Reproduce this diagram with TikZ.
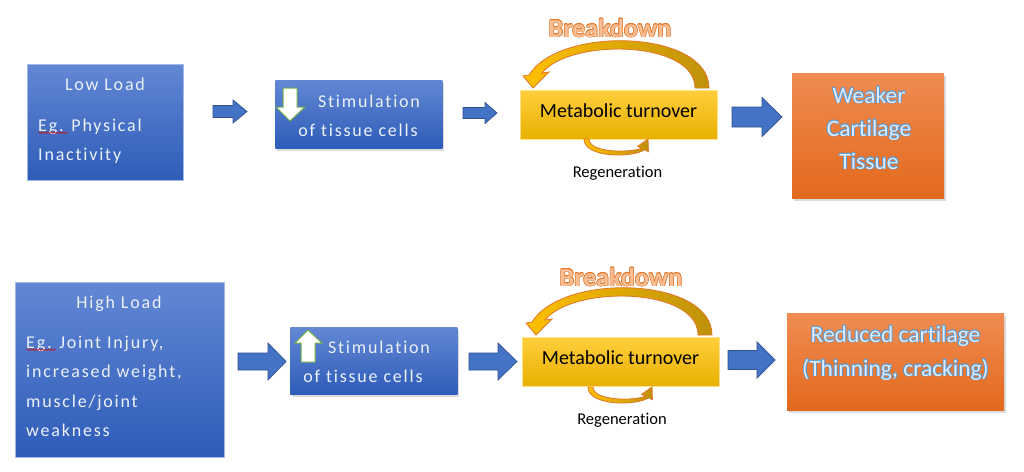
\documentclass[tikz,border=0pt]{standalone}
\usepackage{fontspec}
\setmainfont{Carlito}[Ligatures=NoCommon]
\newfontfamily\spaced[LetterSpace=10,Ligatures=NoCommon]{Carlito}
\usetikzlibrary{shadows,decorations.pathmorphing}
\definecolor{boxblueT}{RGB}{98,135,212}
\definecolor{boxblueB}{RGB}{46,92,184}
\definecolor{arrblue}{RGB}{68,114,196}
\definecolor{arrblueD}{RGB}{47,82,143}
\definecolor{goldT}{RGB}{255,206,60}
\definecolor{goldB}{RGB}{232,176,0}
\definecolor{orT}{RGB}{240,140,82}
\definecolor{orB}{RGB}{226,105,28}
\definecolor{orline}{RGB}{228,118,38}
\definecolor{brkfill}{RGB}{248,190,150}
\definecolor{wtxt}{RGB}{236,241,250}
\definecolor{ltblue}{RGB}{222,235,250}
\definecolor{blueline}{RGB}{91,155,213}
\definecolor{arcL}{RGB}{255,192,0}
\definecolor{arcR}{RGB}{190,145,10}
\definecolor{ggreen}{RGB}{112,173,71}
\newdimen\oltd
\newcommand{\olt}[4]{\leavevmode{\oltd=#4\relax
 \def\oo##1##2{\rlap{\hspace*{##1}\raisebox{##2}{\textcolor{#1}{#3}}}}%
 \oo{-\oltd}{0pt}\oo{\oltd}{0pt}\oo{0pt}{\oltd}\oo{0pt}{-\oltd}%
 \oo{-.7\oltd}{-.7\oltd}\oo{.7\oltd}{.7\oltd}\oo{-.7\oltd}{.7\oltd}\oo{.7\oltd}{-.7\oltd}%
 \textcolor{#2}{#3}}}
\newcommand{\blockarr}[6]{%
 \filldraw[blockarrow] (#1,#4-#5) -- (#2,#4-#5) -- (#2,#4-#6) -- (#3,#4)
   -- (#2,#4+#6) -- (#2,#4+#5) -- (#1,#4+#5) -- cycle;}
\tikzset{
 bluebox/.style={anchor=north west, inner sep=0pt, top color=boxblueT, bottom color=boxblueB, draw=boxblueT!60!white, line width=0.6pt},
 goldbox/.style={anchor=north west, inner sep=0pt, top color=goldT, bottom color=goldB, draw=goldT!60!white, line width=0.6pt},
 orbox/.style={anchor=north west, inner sep=0pt, top color=orT, bottom color=orB, draw=none},
 shadowed/.style={drop shadow={opacity=0.28, shadow xshift=2pt, shadow yshift=-2.5pt}},
 wtext/.style={text=wtxt, inner sep=0pt, font=\spaced\fontsize{18}{22}\selectfont},
 blockarrow/.style={fill=arrblue, draw=arrblueD, line width=0.7pt, line join=miter},
 curvearrow/.style={left color=arcL, right color=arcR, draw=orline, line width=0.8pt, line join=miter},
 bigtext/.style={inner sep=0pt, font=\fontsize{23.5}{28}\selectfont},
 metatext/.style={inner sep=0pt, font=\fontsize{20}{24}\selectfont},
 regtext/.style={inner sep=0pt, font=\fontsize{16.5}{20}\selectfont},
 brktext/.style={inner sep=0pt, font=\bfseries\fontsize{26}{30}\selectfont},
 squiggle/.style={draw=red!85!black, line width=0.5pt, decorate, decoration={snake, amplitude=0.8pt, segment length=3pt}},
 whitearrow/.style={fill=white, draw=ggreen, line width=1pt, line join=miter}
}
\newcommand{\breakarc}{%
 \path[curvearrow] (709,88) .. controls (709,30) and (560,25) .. (529,75) -- (523,76) -- (533,88)
   -- (549,72) -- (542,73) .. controls (570,38) and (695,40) .. (695,88) -- cycle;}
\newcommand{\regarc}{%
 \path[curvearrow] (584,139) .. controls (584,158) and (632,158) .. (644.6,149.8) -- (648.4,151.7)
   -- (648,139) -- (637.6,146.3) -- (641.4,148.2) .. controls (630,153) and (589,153) .. (589,139) -- cycle;}
\begin{document}
\begin{tikzpicture}[x=1pt,y=-1pt]
\useasboundingbox[fill=white] (0,0) rectangle (1024,471);
% ---------- top row ----------
\node[bluebox, minimum width=156pt, minimum height=116pt] (low) at (27,64) {};
\node[wtext, anchor=base] (lowT) at (105,90) {Low Load};
\node[wtext, anchor=base west] (lowA) at (38,131) {Eg. Physical};
\node[wtext, anchor=base west] (lowB) at (38,160) {Inactivity};
\draw[squiggle] (lowA.south west) ++(0.5,-1.5) -- ++(29,0);

\node[bluebox, draw=none, shadowed, minimum width=167pt, minimum height=68pt] (stim1) at (275,80) {};
\filldraw[whitearrow] (283,88) -- (297,88) -- (297,107) -- (305,107) -- (290,121) -- (276,107) -- (283,107) -- cycle;
\node[wtext, anchor=base] (stim1A) at (369,107) {Stimulation};
\node[wtext, anchor=base] (stim1B) at (358,136) {of tissue cells};

\node[goldbox, minimum width=197pt, minimum height=49pt] (met1) at (520,90) {};
\node[metatext, anchor=base] (met1T) at (618.5,117) {Metabolic turnover};
\breakarc
\regarc
\node[brktext, anchor=base] (brk1) at (610,37) {\olt{orline}{brkfill}{Breakdown}{.6pt}};
\node[regtext, anchor=base] (reg1) at (617.5,177) {Regeneration};

\node[orbox, shadowed, minimum width=152pt, minimum height=125pt] (weak) at (792,73) {};
\node[bigtext, anchor=base] (weakA) at (869,103) {\olt{blueline}{ltblue}{Weaker}{.9pt}};
\node[bigtext, anchor=base] (weakB) at (869,136) {\olt{blueline}{ltblue}{Cartilage}{.9pt}};
\node[bigtext, anchor=base] (weakC) at (869,169) {\olt{blueline}{ltblue}{Tissue}{.9pt}};

\blockarr{213}{233}{247}{111.5}{6}{11.5}
\blockarr{463}{485}{497}{113}{5.5}{10.5}
\blockarr{732}{762}{782}{117}{10}{19.5}

% ---------- bottom row ----------
\node[bluebox, minimum width=209pt, minimum height=175pt] (high) at (15,282) {};
\node[wtext, anchor=base] (highT) at (119,308) {High Load};
\node[wtext, anchor=base west] (highA) at (26,348) {Eg. Joint Injury,};
\node[wtext, anchor=base west] (highB) at (26,377) {increased weight,};
\node[wtext, anchor=base west] (highC) at (26,407) {muscle/joint};
\node[wtext, anchor=base west] (highD) at (26,436) {weakness};
\draw[squiggle] (highA.south west) ++(0.5,-1.5) -- ++(29,0);

\node[bluebox, draw=none, shadowed, minimum width=167pt, minimum height=67pt] (stim2) at (290,327) {};
\filldraw[whitearrow] (308,330) -- (322,343) -- (315,343) -- (315,362) -- (301,362) -- (301,343) -- (295,343) -- cycle;
\node[wtext, anchor=base] (stim2A) at (379,353) {Stimulation};
\node[wtext, anchor=base] (stim2B) at (363,382) {of tissue cells};

\node[goldbox, minimum width=197pt, minimum height=49pt] (met2) at (522,337) {};
\node[metatext, anchor=base] (met2T) at (620.5,364) {Metabolic turnover};
\begin{scope}[shift={(3,247)}]
\breakarc
\end{scope}
\begin{scope}[shift={(4,248)}]
\regarc
\end{scope}
\node[brktext, anchor=base] (brk2) at (621,286) {\olt{orline}{brkfill}{Breakdown}{.6pt}};
\node[regtext, anchor=base] (reg2) at (622,424) {Regeneration};

\node[orbox, shadowed, minimum width=217pt, minimum height=97pt] (red) at (787,313) {};
\node[bigtext, anchor=base] (redA) at (895.5,342) {\olt{blueline}{ltblue}{Reduced cartilage}{.9pt}};
\node[bigtext, anchor=base] (redB) at (895.5,376) {\olt{blueline}{ltblue}{(Thinning, cracking)}{.9pt}};

\blockarr{238}{268}{286}{361.5}{8.5}{18.5}
\blockarr{469}{498}{517}{361.5}{8.5}{18.5}
\blockarr{728}{757}{775}{360}{9.5}{18}
\end{tikzpicture}
\end{document}
